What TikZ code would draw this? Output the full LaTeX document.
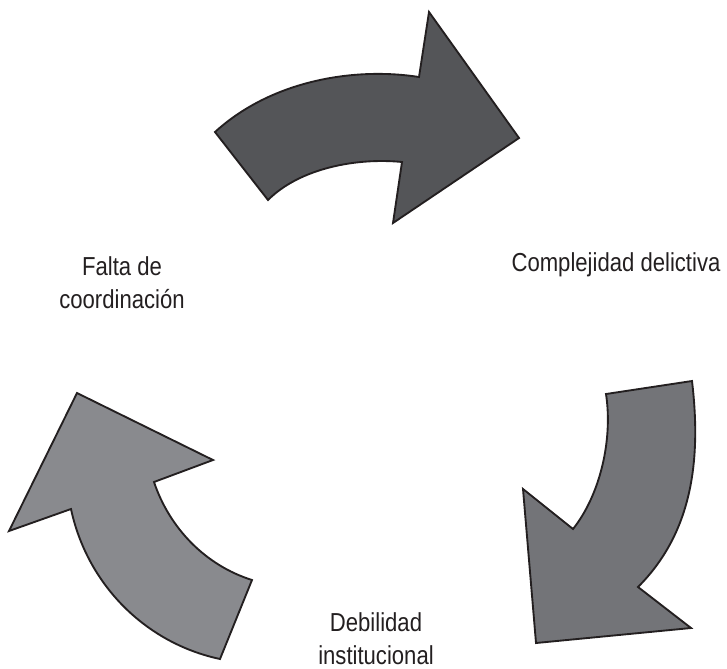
\documentclass[tikz,border=0pt]{standalone}
\usepackage{fontspec}
\setmainfont{Liberation Sans}[FakeStretch=0.85]
\definecolor{edgec}{HTML}{231F20}
\definecolor{arrowA}{HTML}{545558}
\definecolor{arrowB}{HTML}{737478}
\definecolor{arrowC}{HTML}{898A8E}
\definecolor{textc}{HTML}{231F20}
\tikzset{
  bigarrow/.style={draw=edgec, line width=1.4pt, line join=miter},
  lbl/.style={anchor=base, align=center, inner sep=0pt, text=textc,
    font=\fontsize{19.5pt}{24.5pt}\selectfont}
}
\begin{document}
\begin{tikzpicture}[x=0.75pt, y=-0.75pt]
\useasboundingbox (0,0) rectangle (727,668);
% top arrow
\path[bigarrow, fill=arrowA]
  (215,132) -- (268,200)
  .. controls (300,168) and (357,157.5) .. (402,162)
  -- (393,223) -- (519,138) -- (429,12) -- (419,77)
  .. controls (355,67) and (272,80) .. (215,132) -- cycle;
% right arrow
\path[bigarrow, fill=arrowB]
  (606,394) -- (692,381)
  .. controls (702,465) and (690,535) .. (638,587)
  -- (691,628) -- (536,643) -- (523,489) -- (573,529)
  .. controls (600,495) and (613,440) .. (606,394) -- cycle;
% left arrow
\path[bigarrow, fill=arrowC]
  (252,580) -- (220,659)
  .. controls (145,643) and (87,584) .. (71,509)
  -- (9,531) -- (77,393) -- (213,460) -- (154,482)
  .. controls (169.6,528.4) and (205.6,565.4) .. (252,580) -- cycle;
% labels
\node[lbl] (compl) at (616,271) {Complejidad delictiva};
\node[lbl] (falta) at (122,308) {Falta de\\coordinación};
\node[lbl] (debil) at (376,664) {Debilidad\\institucional};
\end{tikzpicture}
\end{document}
